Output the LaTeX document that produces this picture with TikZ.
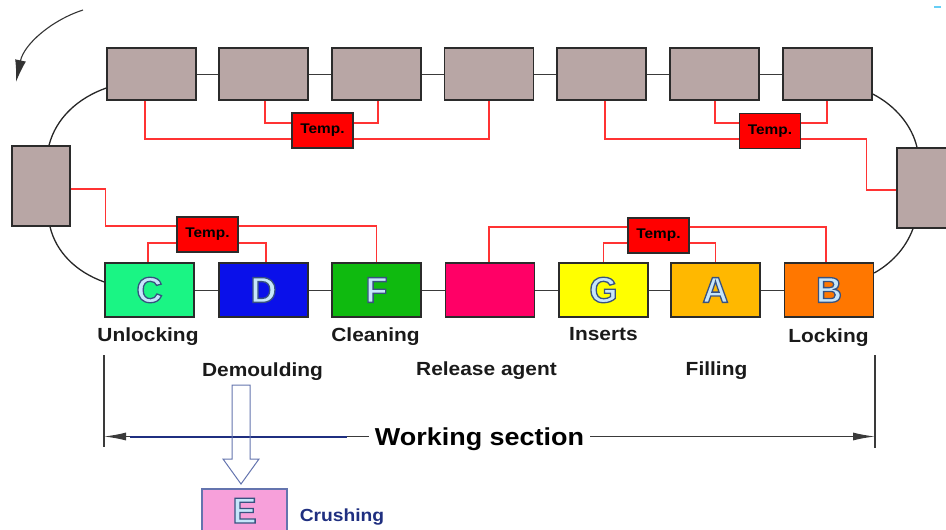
\documentclass[tikz,border=0pt]{standalone}
\usepackage{fontspec}
\setmainfont{Liberation Sans}
\newfontfamily\lbl[FakeStretch=1.1]{Liberation Sans}
\newfontfamily\letf{Liberation Sans}
\usetikzlibrary{calc,arrows.meta}
\definecolor{graybox}{HTML}{B8A6A5}
\definecolor{boxline}{HTML}{2B2B2B}
\definecolor{tempred}{HTML}{FF0000}
\definecolor{redline}{HTML}{FF3333}
\definecolor{connc}{HTML}{3A3A3A}
\definecolor{labcol}{HTML}{1A1A1A}
\definecolor{navy}{HTML}{1F2F80}
\definecolor{cC}{HTML}{1AF584}
\definecolor{cD}{HTML}{0A10EA}
\definecolor{cF}{HTML}{0FBA0F}
\definecolor{cR}{HTML}{FF0066}
\definecolor{cG}{HTML}{FFFF00}
\definecolor{cA}{HTML}{FFB800}
\definecolor{cB}{HTML}{FF7700}
\definecolor{cE}{HTML}{F7A0DA}
\definecolor{letcol}{HTML}{C6E6FB}
\definecolor{arrowc}{HTML}{6474AE}
\newcommand\outl[1]{\textcolor{letcol}{\special{pdf:literal direct 2 Tr 1.3 w 0.22 0.32 0.5 RG}#1\special{pdf:literal direct 0 Tr}}}
\begin{document}
\begin{tikzpicture}[x=1pt,y=-1pt,
  gbox/.style={draw=boxline, line width=1.4pt, fill=graybox, minimum width=89pt, minimum height=52pt, inner sep=0pt},
  sbox/.style={draw=boxline, line width=1.4pt, minimum width=89pt, minimum height=54pt, inner sep=0pt, font=\letf\bfseries\fontsize{36}{36}\selectfont},
  tbox/.style={draw=boxline, line width=1.2pt, fill=tempred, minimum width=61pt, minimum height=35pt, inner sep=0pt, font=\lbl\bfseries\fontsize{14}{14}\selectfont},
  lab/.style={font=\lbl\bfseries\fontsize{19}{19}\selectfont, text=labcol, inner sep=0pt, anchor=base},
  redl/.style={draw=redline, line width=1.2pt},
  conn/.style={draw=connc, line width=1pt},
  curv/.style={draw=black!85, line width=1.3pt}]
\useasboundingbox (0,0) rectangle (946,530);
\clip (0,0) rectangle (946,530);
% top row
\node[gbox] (t1) at (151.5,74) {};
\node[gbox] (t2) at (263.5,74) {};
\node[gbox] (t3) at (376.5,74) {};
\node[gbox] (t4) at (489,74) {};
\node[gbox] (t5) at (601.5,74) {};
\node[gbox] (t6) at (714.5,74) {};
\node[gbox] (t7) at (827.5,74) {};
\node[gbox, minimum width=58pt, minimum height=80pt] (lb) at (41,186) {};
\node[gbox, minimum width=58pt, minimum height=80pt] (rb) at (926,188) {};
% bottom row
\node[sbox, fill=cC] (C) at (149.5,290) {\outl{C}};
\node[sbox, fill=cD] (D) at (263.5,290) {\outl{D}};
\node[sbox, fill=cF] (F) at (376.5,290) {\outl{F}};
\node[sbox, fill=cR] (R) at (490,290) {};
\node[sbox, fill=cG] (G) at (603.5,290) {\outl{G}};
\node[sbox, fill=cA] (A) at (715.5,290) {\outl{A}};
\node[sbox, fill=cB] (B) at (829,290) {\outl{B}};
% temp boxes
\node[tbox] (tp1) at (322.5,130.5) {Temp.};
\node[tbox] (tp2) at (770,131) {Temp.};
\node[tbox] (tp3) at (207.5,234.5) {Temp.};
\node[tbox] (tp4) at (658.5,235.5) {Temp.};
% black connectors
\foreach \a/\b in {t1/t2,t2/t3,t3/t4,t4/t5,t5/t6,t6/t7,C/D,D/F,F/R,R/G,G/A,A/B}
  \draw[conn] (\a.east) -- (\b.west);
% curves
\draw[curv] ($(t1.west)+(0,14)$) .. controls (78,98) and (56,118) .. (lb.north -| 49,0);
\draw[curv] (lb.south -| 50,0) .. controls (56,252) and (76,272) .. ($(C.west)+(0,-8)$);
\draw[curv] ($(t7.east)+(0,20)$) .. controls (896,106) and (912,126) .. (rb.north -| 917,0);
\draw[curv] (rb.south -| 913,0) .. controls (905,250) and (890,264) .. ($(B.east)+(0,-17)$);
% rotation arrow
\coordinate (ra1) at (83,10);
\coordinate (ra2) at (16,82);
\draw[black!80, line width=1.1pt, -{Latex[length=22pt,width=11pt]}] (ra1) .. controls (52,20) and (24,44) .. (ra2);
% red lines top-left
\draw[redl] ($(t1.south)+(-6.5,0)$) |- ($(tp1.west)+(0,8.5)$);
\draw[redl] ($(t2.south)+(1.5,0)$) |- ($(tp1.west)+(0,-7.5)$);
\draw[redl] ($(tp1.east)+(0,-7.5)$) -| ($(t3.south)+(1.5,0)$);
\draw[redl] ($(tp1.east)+(0,8.5)$) -| (t4.south);
% red lines top-right
\draw[redl] ($(t5.south)+(3.5,0)$) |- ($(tp2.west)+(0,8)$);
\draw[redl] ($(t6.south)+(0.5,0)$) |- ($(tp2.west)+(0,-8)$);
\draw[redl] ($(tp2.east)+(0,-8)$) -| ($(t7.south)+(-0.5,0)$);
\draw[redl] ($(tp2.east)+(0,8)$) -| ($(rb.west)+(-30,2)$) -- ($(rb.west)+(0,2)$);
% red lines bottom-left
\draw[redl] ($(lb.east)+(0,3)$) -- ($(lb.east)+(35,3)$) |- ($(tp3.west)+(0,-8.5)$);
\draw[redl] ($(tp3.east)+(0,-8.5)$) -| (F.north);
\draw[redl] ($(tp3.west)+(0,8.5)$) -| ($(C.north)+(-1.5,0)$);
\draw[redl] ($(tp3.east)+(0,8.5)$) -| ($(D.north)+(2.5,0)$);
% red lines bottom-right
\draw[redl] ($(tp4.west)+(0,-8.5)$) -| ($(R.north)+(-1,0)$);
\draw[redl] ($(tp4.east)+(0,-8.5)$) -| ($(B.north)+(-3,0)$);
\draw[redl] ($(tp4.west)+(0,7.5)$) -| (G.north);
\draw[redl] ($(tp4.east)+(0,7.5)$) -| (A.north);
% labels
\node[lab] (lu) at (148,341.5) {Unlocking};
\node[lab] (lc) at (375.5,341.5) {Cleaning};
\node[lab] (li) at (603.5,340.7) {Inserts};
\node[lab] (ll) at (828.5,342.7) {Locking};
\node[lab] (ld) at (262.5,376) {Demoulding};
\node[lab] (lr) at (486.5,375.5) {Release agent};
\node[lab] (lf) at (716.5,375.7) {Filling};
% working section
\coordinate (L1) at (104,355);
\coordinate (L2) at (104,447);
\coordinate (R1) at (875,355);
\coordinate (R2) at (875,448);
\draw[conn, line width=1.2pt] (L1) -- (L2);
\draw[conn, line width=1.2pt] (R1) -- (R2);
\node[lab, font=\lbl\bfseries\fontsize{24.5}{24.5}\selectfont, text=black] (ws) at (479.5,445) {Working section};
\coordinate (wl) at ($(ws.base west)+(-6,-8.5)$);
\coordinate (wr) at ($(ws.base east)+(6,-8.5)$);
\draw[conn, line width=1.3pt, -{Latex[length=22pt,width=8pt]}] (wl) -- (wl -| L1);
\draw[conn, line width=1.3pt, -{Latex[length=22pt,width=8pt]}] (wr) -- (wr -| R1);
\coordinate (n1) at (130,437);
\coordinate (n2) at (347,437);
\draw[navy, line width=1.5pt] (n1) -- (n2);
% E box and hollow arrow
\node[sbox, fill=cE, draw=arrowc, line width=1.2pt, minimum width=85pt] (E) at (244.5,516) {\raisebox{-7pt}[0pt][0pt]{\outl{E}}};
\draw[arrowc, line width=1pt, line join=miter]
  (232,385) -- (250,385) -- (250,459) -- (259,459) -- (241,484) -- (223,459) -- (232,459) -- cycle;
\node[lab, font=\lbl\bfseries\fontsize{17.5}{17.5}\selectfont, text=navy] (lcr) at (342,521.5) {Crushing};
% tiny cyan mark
\coordinate (cy1) at (934,7);
\coordinate (cy2) at (941,7);
\draw[cyan!60, line width=1.5pt] (cy1) -- (cy2);
\end{tikzpicture}
\end{document}
